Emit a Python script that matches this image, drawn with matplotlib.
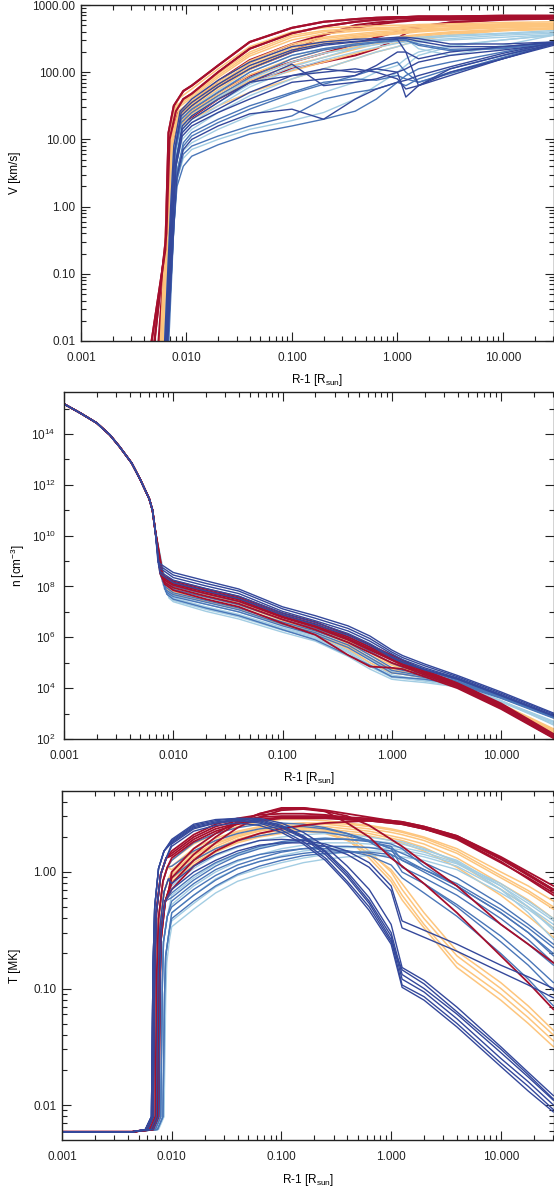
import numpy as np
import matplotlib
matplotlib.use("Agg")
import matplotlib.pyplot as plt
from matplotlib.ticker import LogLocator, FixedLocator, FuncFormatter, NullFormatter

plt.rcParams['font.family'] = ['Liberation Sans', 'DejaVu Sans']
plt.rcParams['mathtext.fontset'] = 'custom'
plt.rcParams['mathtext.rm'] = 'Liberation Sans'
plt.rcParams['mathtext.it'] = 'Liberation Sans:italic'
plt.rcParams['mathtext.default'] = 'regular'

# ------------------------------------------------------------------
# DATA  (all numbers are log10 values)
# ------------------------------------------------------------------
X_LIM = (-3.0, 1.48)
X_TICKS = [0.001, 0.01, 0.1, 1.0, 10.0]

# ---- Panel 1 : speed V [km/s] ----
V_LIM = (-2.0, 3.0)
V_TICKS = [0.01, 0.1, 1.0, 10.0, 100.0, 1000.0]
V_GRID = [-1.95, -1.7, -1.4, -1.0, -0.7, -0.4, -0.2, 0.0, 0.08, 0.2, 0.5, 1.0, 1.48]

V_RED = [
    ([(-2.34, -2.1), (-2.2, -0.64), (-2.17, 1.1), (-2.12, 1.5), (-2.03, 1.72)],
     [1.8, 2.1, 2.45, 2.66, 2.75, 2.79, 2.81, 2.82, 2.82, 2.83, 2.83, 2.84, 2.84]),
    ([(-2.31, -2.1), (-2.19, -0.4), (-2.16, 1.0), (-2.1, 1.42), (-2.03, 1.6)],
     [1.68, 2.0, 2.35, 2.58, 2.68, 2.75, 2.78, 2.8, 2.8, 2.8, 2.81, 2.82, 2.82]),
    ([(-2.27, -2.1), (-2.18, -0.2), (-2.15, 1.0), (-2.09, 1.3), (-2.03, 1.43)],
     [1.5, 1.8, 2.05, 2.3, 2.55, 2.7, 2.74, 2.76, 2.77, 2.78, 2.78, 2.8, 2.8]),
    ([(-2.25, -2.1), (-2.17, 0.0), (-2.14, 1.0), (-2.08, 1.28)],
     [1.42, 1.7, 1.95, 2.15, 2.28, 2.42, 2.52, 2.6, 2.64, 2.68, 2.74, 2.78, 2.8]),
    ([(-2.24, -2.1), (-2.16, 0.2), (-2.13, 1.0), (-2.07, 1.22)],
     [1.33, 1.6, 1.85, 2.05, 2.15, 2.25, 2.35, 2.5, 2.58, 2.66, 2.74, 2.79, 2.8]),
    ([(-2.26, -2.1), (-2.17, -0.2), (-2.14, 1.1), (-2.08, 1.4)],
     [1.55, 1.87, 2.18, 2.42, 2.56, 2.66, 2.71, 2.75, 2.76, 2.78, 2.8, 2.82, 2.82]),
]
V_ORANGE = [
    ([(-2.25, -2.1), (-2.18, 0.3), (-2.15, 1.25), (-2.08, 1.6)],
     [1.75, 2.05, 2.38, 2.6, 2.66, 2.68, 2.69, 2.7, 2.7, 2.71, 2.72, 2.74, 2.75]),
    ([(-2.24, -2.1), (-2.17, 0.2), (-2.14, 1.2), (-2.08, 1.52)],
     [1.68, 1.98, 2.3, 2.55, 2.62, 2.65, 2.66, 2.67, 2.68, 2.69, 2.7, 2.72, 2.73]),
    ([(-2.24, -2.1), (-2.17, 0.25), (-2.145, 1.18), (-2.08, 1.5)],
     [1.65, 1.95, 2.27, 2.52, 2.6, 2.63, 2.65, 2.66, 2.67, 2.68, 2.69, 2.71, 2.72]),
    ([(-2.23, -2.1), (-2.17, 0.2), (-2.14, 1.15), (-2.08, 1.47)],
     [1.62, 1.92, 2.24, 2.48, 2.57, 2.61, 2.63, 2.64, 2.65, 2.66, 2.68, 2.7, 2.72]),
    ([(-2.23, -2.1), (-2.16, 0.1), (-2.13, 1.1), (-2.07, 1.43)],
     [1.57, 1.86, 2.17, 2.42, 2.52, 2.57, 2.6, 2.62, 2.63, 2.64, 2.66, 2.69, 2.71]),
    ([(-2.23, -2.1), (-2.16, 0.1), (-2.135, 1.08), (-2.07, 1.4)],
     [1.55, 1.83, 2.13, 2.39, 2.5, 2.55, 2.58, 2.6, 2.61, 2.63, 2.65, 2.68, 2.7]),
    ([(-2.22, -2.1), (-2.16, 0.1), (-2.13, 1.05), (-2.07, 1.38)],
     [1.52, 1.8, 2.1, 2.36, 2.47, 2.53, 2.56, 2.59, 2.6, 2.62, 2.65, 2.68, 2.7]),
    ([(-2.22, -2.1), (-2.16, 0.0), (-2.13, 1.0), (-2.07, 1.35)],
     [1.5, 1.77, 2.07, 2.33, 2.45, 2.52, 2.55, 2.58, 2.59, 2.61, 2.64, 2.67, 2.69]),
    ([(-2.22, -2.1), (-2.16, 0.0), (-2.13, 1.0), (-2.07, 1.33)],
     [1.47, 1.74, 2.04, 2.3, 2.42, 2.5, 2.54, 2.57, 2.58, 2.6, 2.63, 2.66, 2.68]),
    ([(-2.21, -2.1), (-2.15, 0.0), (-2.12, 0.95), (-2.06, 1.3)],
     [1.42, 1.68, 1.96, 2.2, 2.33, 2.43, 2.48, 2.52, 2.54, 2.56, 2.6, 2.64, 2.66]),
    ([(-2.21, -2.1), (-2.15, 0.0), (-2.12, 0.95), (-2.06, 1.27)],
     [1.4, 1.65, 1.92, 2.15, 2.28, 2.38, 2.45, 2.5, 2.52, 2.55, 2.59, 2.63, 2.66]),
    ([(-2.21, -2.1), (-2.15, 0.0), (-2.12, 0.9), (-2.06, 1.22)],
     [1.35, 1.6, 1.88, 2.1, 2.22, 2.34, 2.42, 2.48, 2.5, 2.53, 2.58, 2.62, 2.65]),
    ([(-2.2, -2.1), (-2.14, -0.1), (-2.11, 0.85), (-2.05, 1.18)],
     [1.3, 1.5, 1.7, 1.9, 2.05, 2.2, 2.3, 2.38, 2.42, 2.47, 2.55, 2.62, 2.64]),
    ([(-2.21, -2.1), (-2.15, 0.0), (-2.12, 0.9), (-2.06, 1.25)],
     [1.38, 1.62, 1.85, 2.02, 2.15, 2.28, 2.36, 2.44, 2.47, 2.5, 2.56, 2.62, 2.64]),
]
V_LBLUE = [
    ([(-2.21, -2.1), (-2.15, 0.0), (-2.12, 0.9), (-2.06, 1.3)],
     [1.45, 1.72, 2.0, 2.25, 2.35, 2.42, 2.46, 2.5, 2.51, 2.52, 2.55, 2.58, 2.62]),
    ([(-2.2, -2.1), (-2.14, 0.0), (-2.11, 0.8), (-2.05, 1.2)],
     [1.35, 1.62, 1.9, 2.15, 2.28, 2.36, 2.41, 2.46, 2.48, 2.5, 2.53, 2.57, 2.6]),
    ([(-2.2, -2.1), (-2.14, -0.1), (-2.11, 0.7), (-2.05, 1.1)],
     [1.25, 1.5, 1.78, 2.04, 2.18, 2.3, 2.37, 2.43, 2.45, 2.47, 2.5, 2.55, 2.58]),
    ([(-2.19, -2.1), (-2.13, -0.1), (-2.1, 0.6), (-2.04, 1.0)],
     [1.15, 1.4, 1.65, 1.9, 2.05, 2.2, 2.3, 2.38, 2.42, 2.45, 2.48, 2.52, 2.56]),
    ([(-2.19, -2.1), (-2.13, -0.2), (-2.1, 0.5), (-2.04, 0.82)],
     [0.95, 1.15, 1.35, 1.55, 1.7, 1.85, 2.0, 2.1, 2.2, 2.3, 2.4, 2.48, 2.55]),
    ([(-2.18, -2.1), (-2.12, -0.2), (-2.09, 0.4), (-2.03, 0.72)],
     [0.85, 1.0, 1.15, 1.28, 1.4, 1.6, 1.8, 2.0, 2.1, 2.25, 2.38, 2.48, 2.55]),
    ([(-2.2, -2.1), (-2.14, 0.0), (-2.11, 0.75), (-2.05, 1.15)],
     [1.3, 1.55, 1.82, 2.08, 2.22, 2.36, 2.45, 2.52, 2.5, 2.35, 2.25, 2.4, 2.55]),
]
V_MBLUE = [
    ([(-2.2, -2.1), (-2.14, -0.1), (-2.11, 0.8), (-2.05, 1.25)],
     [1.4, 1.65, 1.92, 2.2, 2.33, 2.4, 2.44, 2.47, 2.47, 2.42, 2.34, 2.36, 2.43]),
    ([(-2.18, -2.1), (-2.12, -0.3), (-2.09, 0.5), (-2.03, 0.95)],
     [1.1, 1.3, 1.5, 1.7, 1.85, 1.9, 1.88, 1.95, 1.9, 1.85, 1.98, 2.2, 2.42]),
    ([(-2.18, -2.1), (-2.12, -0.3), (-2.09, 0.4), (-2.03, 0.78)],
     [0.9, 1.05, 1.2, 1.35, 1.6, 1.7, 1.75, 1.85, 1.8, 1.9, 2.05, 2.25, 2.45]),
    ([(-2.17, -2.1), (-2.12, -0.3), (-2.09, 0.3), (-2.03, 0.6)],
     [0.75, 0.92, 1.08, 1.2, 1.3, 1.42, 1.6, 1.85, 1.95, 2.05, 2.15, 2.3, 2.45]),
    ([(-2.2, -2.1), (-2.14, -0.1), (-2.11, 0.8), (-2.05, 1.3)],
     [1.45, 1.7, 2.0, 2.25, 2.35, 2.42, 2.45, 2.48, 2.48, 2.4, 2.32, 2.35, 2.44]),
    ([(-2.18, -2.1), (-2.12, -0.2), (-2.09, 0.5), (-2.03, 0.9)],
     [1.05, 1.25, 1.45, 1.68, 1.82, 1.95, 2.05, 2.15, 2.0, 1.85, 2.0, 2.22, 2.43]),
]
V_DBLUE = [
    ([(-2.21, -2.1), (-2.15, 0.0), (-2.12, 0.9), (-2.06, 1.42)],
     [1.6, 1.88, 2.15, 2.38, 2.45, 2.49, 2.5, 2.52, 2.52, 2.5, 2.42, 2.42, 2.45]),
    ([(-2.2, -2.1), (-2.14, 0.0), (-2.11, 0.85), (-2.05, 1.35)],
     [1.5, 1.78, 2.05, 2.3, 2.4, 2.45, 2.48, 2.5, 2.5, 2.46, 2.38, 2.38, 2.44]),
    ([(-2.19, -2.1), (-2.13, -0.1), (-2.1, 0.7), (-2.04, 1.15)],
     [1.3, 1.55, 1.85, 2.12, 1.8, 1.85, 1.9, 2.0, 2.05, 2.15, 2.25, 2.33, 2.42]),
    ([(-2.19, -2.1), (-2.13, -0.2), (-2.1, 0.6), (-2.04, 1.1)],
     [1.25, 1.45, 1.7, 1.95, 2.05, 2.0, 2.05, 2.0, 1.63, 1.8, 2.05, 2.25, 2.42]),
    ([(-2.19, -2.1), (-2.13, -0.2), (-2.1, 0.6), (-2.04, 1.05)],
     [1.2, 1.4, 1.6, 1.85, 1.9, 1.95, 2.1, 2.3, 2.3, 1.8, 1.95, 2.2, 2.42]),
    ([(-2.18, -2.1), (-2.12, -0.3), (-2.09, 0.45), (-2.03, 0.85)],
     [1.0, 1.2, 1.38, 1.45, 1.3, 1.6, 1.75, 1.85, 1.88, 1.95, 2.08, 2.28, 2.44]),
    ([(-2.19, -2.1), (-2.13, -0.1), (-2.1, 0.65), (-2.04, 1.2)],
     [1.35, 1.6, 1.85, 1.95, 2.0, 2.05, 2.0, 1.9, 1.75, 1.8, 2.0, 2.2, 2.4]),
    ([(-2.2, -2.1), (-2.14, 0.0), (-2.11, 0.85), (-2.05, 1.4)],
     [1.55, 1.82, 2.1, 2.33, 2.42, 2.46, 2.48, 2.49, 2.3, 2.2, 2.3, 2.38, 2.45]),
]

# ---- Panel 2 : density n [cm^-3] ----
N_LIM = (2.0, 15.65)
N_MAJOR = [2, 4, 6, 8, 10, 12, 14]
N_MINOR = [3, 5, 7, 9, 11, 13, 15]
N_BASE = [(-3.0, 15.18), (-2.85, 14.82), (-2.7, 14.43), (-2.58, 13.96), (-2.49, 13.49),
          (-2.38, 12.85), (-2.3, 12.19), (-2.22, 11.45), (-2.19, 11.0), (-2.165, 10.2)]
N_GRID = [-2.0, -1.7, -1.4, -1.0, -0.7, -0.4, -0.2, 0.0, 0.1, 0.3, 0.6, 1.0, 1.48]

N_LBLUE = [
    ([(-2.07, 7.85)], [7.65, 7.3, 7.0, 6.5, 6.15, 5.65, 5.15, 4.65, 4.55, 4.38, 4.14, 3.52, 2.55]),
    ([(-2.06, 7.75)], [7.55, 7.2, 6.9, 6.38, 6.05, 5.5, 5.0, 4.52, 4.45, 4.32, 4.12, 3.5, 2.7]),
    ([(-2.055, 7.7)], [7.5, 7.15, 6.85, 6.33, 6.0, 5.45, 4.92, 4.47, 4.4, 4.3, 4.1, 3.49, 2.68]),
    ([(-2.05, 7.65)], [7.45, 7.1, 6.8, 6.28, 5.95, 5.4, 4.85, 4.42, 4.38, 4.28, 4.08, 3.48, 2.65]),
    ([(-2.04, 7.55)], [7.4, 7.02, 6.72, 6.2, 5.85, 5.25, 4.75, 4.35, 4.3, 4.22, 4.05, 3.45, 2.6]),
]
N_ORANGE = [
    ([(-2.1, 8.3)], [8.0, 7.66, 7.36, 6.72, 6.35, 5.85, 5.4, 4.95, 4.8, 4.52, 4.1, 3.32, 2.25]),
    ([(-2.09, 8.15)], [7.9, 7.58, 7.28, 6.65, 6.28, 5.75, 5.3, 4.9, 4.75, 4.5, 4.1, 3.35, 2.35]),
    ([(-2.08, 8.05)], [7.8, 7.48, 7.18, 6.58, 6.2, 5.65, 5.2, 4.75, 4.65, 4.48, 4.12, 3.36, 2.3]),
    ([(-2.07, 7.95)], [7.7, 7.4, 7.1, 6.5, 6.1, 5.55, 5.0, 4.6, 4.55, 4.42, 4.1, 3.38, 2.4]),
]
N_MBLUE = [
    ([(-2.11, 8.35)], [8.0, 7.7, 7.4, 6.8, 6.45, 6.0, 5.6, 5.15, 4.95, 4.7, 4.32, 3.7, 2.88]),
    ([(-2.1, 8.2)], [7.88, 7.58, 7.28, 6.7, 6.35, 5.9, 5.45, 4.98, 4.82, 4.62, 4.28, 3.67, 2.87]),
    ([(-2.09, 8.05)], [7.75, 7.45, 7.15, 6.6, 6.25, 5.8, 5.3, 4.8, 4.7, 4.55, 4.25, 3.65, 2.9]),
    ([(-2.08, 7.9)], [7.68, 7.38, 7.08, 6.52, 6.18, 5.7, 5.2, 4.7, 4.62, 4.48, 4.22, 3.63, 2.84]),
    ([(-2.07, 7.8)], [7.6, 7.3, 7.0, 6.45, 6.1, 5.6, 5.1, 4.6, 4.55, 4.42, 4.2, 3.62, 2.85]),
    ([(-2.06, 7.7)], [7.5, 7.15, 6.85, 6.3, 5.9, 5.3, 4.9, 4.45, 4.42, 4.35, 4.15, 3.6, 2.82]),
]
N_RED = [
    ([(-2.12, 8.5)], [8.22, 7.9, 7.6, 6.95, 6.6, 6.1, 5.7, 5.3, 5.1, 4.7, 4.2, 3.4, 2.2]),
    ([(-2.115, 8.45)], [8.16, 7.84, 7.54, 6.88, 6.52, 6.02, 5.62, 5.22, 5.02, 4.65, 4.16, 3.35, 2.15]),
    ([(-2.11, 8.4)], [8.1, 7.78, 7.48, 6.82, 6.45, 5.95, 5.55, 5.15, 4.95, 4.6, 4.12, 3.3, 2.1]),
    ([(-2.1, 8.3)], [8.05, 7.72, 7.42, 6.78, 6.4, 5.9, 5.5, 5.1, 4.9, 4.58, 4.1, 3.26, 2.12]),
    ([(-2.09, 8.2)], [7.95, 7.62, 7.32, 6.7, 6.3, 5.8, 5.4, 5.0, 4.85, 4.52, 4.05, 3.22, 2.05]),
    ([(-2.08, 8.1)], [7.85, 7.5, 7.2, 6.55, 6.1, 5.3, 4.85, 4.8, 4.75, 4.45, 4.0, 3.18, 2.03]),
]
N_DBLUE = [
    ([(-2.14, 8.95)], [8.55, 8.22, 7.9, 7.2, 6.85, 6.45, 6.05, 5.5, 5.28, 4.95, 4.5, 3.85, 3.02]),
    ([(-2.135, 8.85)], [8.45, 8.12, 7.82, 7.12, 6.75, 6.35, 5.95, 5.42, 5.2, 4.88, 4.45, 3.8, 2.98]),
    ([(-2.13, 8.75)], [8.35, 8.02, 7.72, 7.02, 6.65, 6.25, 5.85, 5.35, 5.12, 4.8, 4.4, 3.75, 2.93]),
    ([(-2.125, 8.6)], [8.25, 7.92, 7.62, 6.95, 6.58, 6.15, 5.75, 5.25, 5.05, 4.75, 4.38, 3.72, 2.92]),
    ([(-2.12, 8.5)], [8.15, 7.82, 7.52, 6.88, 6.5, 6.08, 5.68, 5.2, 5.0, 4.72, 4.35, 3.7, 2.9]),
]

# ---- Panel 3 : temperature T [MK] ----
T_LIM = (-2.3, 0.695)
T_TICKS = [0.01, 0.1, 1.0]
T_BASE = [(-3.0, -2.23), (-2.36, -2.23)]
T_GRID = [-2.0, -1.8, -1.6, -1.4, -1.2, -1.0, -0.8, -0.6, -0.4, -0.2, 0.0, 0.1, 0.3, 0.6, 1.0, 1.25, 1.48]

T_RISE_A = [(-2.24, -2.21), (-2.185, -2.1), (-2.17, -0.8), (-2.155, -0.3), (-2.12, 0.03), (-2.07, 0.18)]
T_RISE_B = [(-2.22, -2.21), (-2.17, -2.1), (-2.155, -0.85), (-2.14, -0.35), (-2.1, -0.02), (-2.05, 0.12)]
T_RISE_C = [(-2.2, -2.21), (-2.15, -2.1), (-2.135, -0.85), (-2.12, -0.4), (-2.08, -0.08), (-2.04, 0.04)]
T_RISE_D = [(-2.19, -2.21), (-2.14, -2.1), (-2.125, -0.95), (-2.11, -0.5), (-2.07, -0.17), (-2.03, -0.06)]
T_RISE_E = [(-2.18, -2.21), (-2.13, -2.1), (-2.115, -1.0), (-2.1, -0.6), (-2.06, -0.26), (-2.025, -0.15)]
T_RISE_F = [(-2.17, -2.21), (-2.12, -2.1), (-2.105, -0.9), (-2.095, -0.5), (-2.06, -0.25)]
T_RISE_G = [(-2.15, -2.21), (-2.1, -2.1), (-2.085, -0.95), (-2.075, -0.6), (-2.04, -0.38)]
T_RISE_H = [(-2.13, -2.21), (-2.08, -2.1), (-2.065, -1.05), (-2.055, -0.72), (-2.025, -0.52)]
T_RISE_I = [(-2.12, -2.21), (-2.07, -2.1), (-2.055, -1.1), (-2.045, -0.78), (-2.02, -0.58)]

T_ORANGE = [
    (T_RISE_C, [0.1, 0.24, 0.33, 0.39, 0.43, 0.45, 0.45, 0.44, 0.42, 0.4, 0.37, 0.35, 0.3, 0.2, 0.0, -0.12, -0.25]),
    (T_RISE_C, [0.05, 0.2, 0.29, 0.35, 0.39, 0.41, 0.42, 0.41, 0.39, 0.37, 0.34, 0.32, 0.27, 0.16, -0.05, -0.18, -0.32]),
    (T_RISE_D, [0.0, 0.15, 0.25, 0.32, 0.36, 0.39, 0.4, 0.39, 0.37, 0.35, 0.31, 0.29, 0.24, 0.12, -0.1, -0.24, -0.4]),
    (T_RISE_D, [-0.05, 0.1, 0.2, 0.28, 0.33, 0.36, 0.37, 0.37, 0.35, 0.33, 0.29, 0.27, 0.21, 0.08, -0.15, -0.3, -0.48]),
    (T_RISE_E, [-0.08, 0.06, 0.17, 0.25, 0.3, 0.33, 0.35, 0.35, 0.33, 0.31, 0.27, 0.25, 0.18, 0.04, -0.2, -0.38, -0.56]),
    (T_RISE_C, [0.02, 0.17, 0.27, 0.34, 0.38, 0.41, 0.42, 0.42, 0.41, 0.39, 0.36, 0.34, 0.29, 0.18, -0.03, -0.16, -0.3]),
    (T_RISE_D, [-0.02, 0.12, 0.22, 0.3, 0.35, 0.38, 0.38, 0.36, 0.3, 0.15, -0.05, -0.2, -0.45, -0.78, -1.05, -1.25, -1.45]),
    (T_RISE_E, [-0.04, 0.1, 0.2, 0.28, 0.33, 0.36, 0.36, 0.34, 0.28, 0.12, -0.08, -0.24, -0.48, -0.82, -1.1, -1.3, -1.5]),
    (T_RISE_D, [0.0, 0.14, 0.24, 0.31, 0.36, 0.39, 0.39, 0.37, 0.32, 0.18, 0.0, -0.15, -0.4, -0.72, -1.0, -1.2, -1.4]),
    (T_RISE_E, [-0.06, 0.08, 0.18, 0.26, 0.31, 0.34, 0.35, 0.33, 0.27, 0.16, 0.02, -0.1, -0.35, -0.68, -0.95, -1.15, -1.36]),
]
T_LBLUE = [
    (T_RISE_I, [-0.47, -0.32, -0.18, -0.08, -0.02, 0.03, 0.08, 0.11, 0.13, 0.14, 0.14, 0.13, 0.1, 0.02, -0.18, -0.32, -0.48]),
    (T_RISE_H, [-0.42, -0.27, -0.13, -0.03, 0.03, 0.08, 0.12, 0.15, 0.17, 0.18, 0.18, 0.17, 0.13, 0.05, -0.15, -0.3, -0.45]),
    (T_RISE_H, [-0.35, -0.2, -0.06, 0.03, 0.09, 0.14, 0.18, 0.2, 0.21, 0.21, 0.2, 0.19, 0.15, 0.07, -0.12, -0.27, -0.42]),
    (T_RISE_G, [-0.28, -0.12, 0.0, 0.09, 0.15, 0.2, 0.23, 0.25, 0.25, 0.24, 0.22, 0.21, 0.17, 0.08, -0.1, -0.25, -0.4]),
    (T_RISE_G, [-0.2, -0.05, 0.07, 0.15, 0.21, 0.25, 0.28, 0.29, 0.28, 0.27, 0.25, 0.24, 0.19, 0.1, -0.12, -0.3, -0.5]),
    (T_RISE_F, [-0.12, 0.03, 0.14, 0.21, 0.27, 0.3, 0.32, 0.33, 0.32, 0.3, 0.27, 0.26, 0.2, 0.09, -0.15, -0.35, -0.58]),
]
T_MBLUE = [
    (T_RISE_H, [-0.4, -0.25, -0.12, -0.02, 0.05, 0.1, 0.14, 0.16, 0.17, 0.17, 0.15, 0.1, 0.0, -0.15, -0.4, -0.58, -0.78]),
    (T_RISE_G, [-0.3, -0.15, -0.03, 0.06, 0.12, 0.17, 0.2, 0.22, 0.22, 0.21, 0.18, 0.12, 0.02, -0.12, -0.35, -0.52, -0.7]),
    (T_RISE_F, [-0.18, -0.03, 0.08, 0.16, 0.22, 0.26, 0.28, 0.29, 0.28, 0.26, 0.22, 0.1, 0.02, -0.1, -0.32, -0.48, -0.65]),
    (T_RISE_D, [-0.05, 0.1, 0.2, 0.27, 0.31, 0.34, 0.35, 0.34, 0.31, 0.27, 0.2, 0.04, -0.05, -0.2, -0.45, -0.62, -0.8]),
    (T_RISE_C, [0.05, 0.18, 0.27, 0.33, 0.37, 0.39, 0.39, 0.37, 0.33, 0.26, 0.15, 0.0, -0.1, -0.28, -0.55, -0.75, -0.95]),
    (T_RISE_G, [-0.25, -0.1, 0.02, 0.1, 0.15, 0.18, 0.2, 0.2, 0.18, 0.14, 0.06, -0.05, -0.18, -0.38, -0.7, -0.92, -1.15]),
    (T_RISE_H, [-0.35, -0.2, -0.07, 0.03, 0.09, 0.13, 0.16, 0.18, 0.18, 0.16, 0.12, 0.05, -0.1, -0.3, -0.6, -0.8, -1.02]),
    (T_RISE_C, [0.1, 0.25, 0.33, 0.38, 0.41, 0.42, 0.41, 0.38, 0.33, 0.27, 0.2, 0.16, 0.08, -0.05, -0.28, -0.45, -0.62]),
    (T_RISE_F, [-0.22, -0.07, 0.05, 0.14, 0.2, 0.24, 0.27, 0.28, 0.28, 0.27, 0.24, 0.2, 0.05, -0.12, -0.35, -0.52, -0.72]),
]
T_RED = [
    (T_RISE_B, [0.18, 0.32, 0.41, 0.46, 0.49, 0.5, 0.5, 0.49, 0.47, 0.46, 0.44, 0.43, 0.39, 0.31, 0.13, 0.0, -0.12]),
    (T_RISE_B, [0.16, 0.3, 0.39, 0.44, 0.47, 0.48, 0.48, 0.48, 0.46, 0.45, 0.43, 0.42, 0.38, 0.3, 0.11, -0.03, -0.16]),
    (T_RISE_B, [0.14, 0.28, 0.37, 0.42, 0.45, 0.47, 0.47, 0.47, 0.45, 0.44, 0.42, 0.41, 0.37, 0.29, 0.09, -0.06, -0.2]),
    (T_RISE_C, [0.12, 0.26, 0.35, 0.41, 0.44, 0.46, 0.46, 0.46, 0.45, 0.44, 0.42, 0.41, 0.37, 0.28, 0.08, -0.05, -0.18]),
    (T_RISE_E, [-0.05, 0.15, 0.3, 0.42, 0.5, 0.55, 0.55, 0.52, 0.42, 0.3, 0.12, 0.05, -0.1, -0.35, -0.72, -0.95, -1.18]),
    (T_RISE_F, [-0.1, 0.1, 0.25, 0.38, 0.47, 0.53, 0.54, 0.52, 0.48, 0.4, 0.28, 0.22, 0.08, -0.12, -0.45, -0.62, -0.78]),
    (T_RISE_E, [0.0, 0.2, 0.33, 0.43, 0.5, 0.54, 0.55, 0.53, 0.5, 0.47, 0.44, 0.42, 0.37, 0.3, 0.12, -0.02, -0.15]),
    (T_RISE_F, [-0.15, 0.05, 0.18, 0.27, 0.33, 0.37, 0.4, 0.42, 0.43, 0.44, 0.44, 0.43, 0.39, 0.31, 0.12, -0.02, -0.15]),
]
T_DBLUE = [
    (T_RISE_A, [0.27, 0.4, 0.44, 0.46, 0.45, 0.4, 0.31, 0.18, 0.0, -0.22, -0.52, -0.88, -1.0, -1.22, -1.55, -1.76, -1.96]),
    (T_RISE_A, [0.26, 0.39, 0.43, 0.45, 0.44, 0.39, 0.3, 0.17, -0.02, -0.25, -0.55, -0.92, -1.03, -1.26, -1.6, -1.8, -2.0]),
    (T_RISE_A, [0.25, 0.38, 0.42, 0.44, 0.43, 0.38, 0.29, 0.15, -0.04, -0.27, -0.58, -0.97, -1.07, -1.3, -1.64, -1.84, -2.04]),
    (T_RISE_B, [0.24, 0.37, 0.42, 0.44, 0.42, 0.36, 0.26, 0.12, -0.08, -0.3, -0.6, -0.84, -0.96, -1.2, -1.52, -1.74, -1.95]),
    (T_RISE_B, [0.22, 0.35, 0.4, 0.42, 0.4, 0.34, 0.24, 0.1, -0.1, -0.33, -0.62, -0.99, -1.1, -1.33, -1.67, -1.88, -2.06]),
    (T_RISE_A, [0.28, 0.41, 0.45, 0.46, 0.46, 0.42, 0.34, 0.22, 0.05, -0.15, -0.45, -0.82, -0.93, -1.16, -1.5, -1.72, -1.92]),
    (T_RISE_D, [-0.1, 0.05, 0.15, 0.22, 0.27, 0.28, 0.27, 0.24, 0.18, 0.08, -0.12, -0.42, -0.5, -0.62, -0.8, -0.9, -1.0]),
    (T_RISE_F, [-0.15, 0.0, 0.1, 0.18, 0.23, 0.25, 0.25, 0.22, 0.15, 0.04, -0.16, -0.48, -0.56, -0.68, -0.86, -0.97, -1.08]),
]

# ------------------------------------------------------------------
# STYLE
# ------------------------------------------------------------------
RED = '#a50f2d'
ORANGE = '#fdc57d'
LBLUE = '#a3cde3'
MBLUE = '#4a76b8'
DBLUE = '#34489b'
FS = 8.5

W, H = 554, 1191
fig = plt.figure(figsize=(W / 100, H / 100), dpi=100)


def add_ax(left, top, bottom, right=553.5):
    return fig.add_axes([left / W, 1 - bottom / H, (right - left) / W, (bottom - top) / H])


def draw(ax, grid, curves, color, lw, base=()):
    for rise, vals in curves:
        pts = list(base) + list(rise) + list(zip(grid, vals))
        lx = np.array([p[0] for p in pts])
        ly = np.array([p[1] for p in pts])
        ax.plot(10 ** lx, 10 ** ly, color=color, lw=lw, solid_joinstyle='round',
                solid_capstyle='round')


def style_x(ax):
    ax.set_xscale('log')
    ax.set_xlim(10 ** X_LIM[0], 10 ** X_LIM[1])
    ax.xaxis.set_major_locator(FixedLocator(X_TICKS))
    ax.xaxis.set_minor_locator(LogLocator(base=10, subs=range(2, 10), numticks=20))
    ax.xaxis.set_major_formatter(FuncFormatter(lambda v, p: f'{v:.3f}'))
    ax.xaxis.set_minor_formatter(NullFormatter())
    ax.tick_params(axis='x', which='both', direction='in', top=True, bottom=True,
                   labelsize=FS, pad=8, colors='#222222')
    ax.tick_params(axis='y', which='both', direction='in', left=True, right=True,
                   labelsize=FS, colors='#222222')
    ax.tick_params(which='major', length=6.5, width=0.8)
    ax.tick_params(which='minor', length=3.5, width=0.8)
    for s in ax.spines.values():
        s.set_linewidth(1.0)
        s.set_color('#222222')
    ax.set_xlabel('R-1 [R$_{sun}$]', fontsize=FS, va='center')


# ---------------- Panel 1 ----------------
ax1 = add_ax(81, 5, 341)
draw(ax1, V_GRID, V_RED, RED, 1.5)
draw(ax1, V_GRID, V_ORANGE, ORANGE, 1.1)
draw(ax1, V_GRID, V_LBLUE, LBLUE, 1.0)
draw(ax1, V_GRID, V_MBLUE, MBLUE, 1.0)
draw(ax1, V_GRID, V_DBLUE, DBLUE, 1.0)
draw(ax1, V_GRID, V_RED[:2], RED, 1.5)
style_x(ax1)
ax1.set_yscale('log')
ax1.set_ylim(10 ** V_LIM[0], 10 ** V_LIM[1])
ax1.yaxis.set_major_locator(FixedLocator(V_TICKS))
ax1.yaxis.set_minor_locator(LogLocator(base=10, subs=range(2, 10), numticks=20))
ax1.yaxis.set_major_formatter(FuncFormatter(lambda v, p: f'{v:.2f}'))
ax1.yaxis.set_minor_formatter(NullFormatter())
ax1.tick_params(axis='y', pad=4)
ax1.set_ylabel('V [km/s]', fontsize=FS, va='center')
ax1.yaxis.set_label_coords((15 - 81) / (553.5 - 81), 0.5)
ax1.xaxis.set_label_coords(0.5, -39 / 336)

# ---------------- Panel 2 ----------------
ax2 = add_ax(64, 392, 739)
draw(ax2, N_GRID, N_LBLUE, LBLUE, 1.0, N_BASE)
draw(ax2, N_GRID, N_ORANGE, ORANGE, 1.1, N_BASE)
draw(ax2, N_GRID, N_MBLUE, MBLUE, 1.0, N_BASE)
draw(ax2, N_GRID, N_RED, RED, 1.3, N_BASE)
draw(ax2, N_GRID, N_DBLUE, DBLUE, 1.0, N_BASE)
style_x(ax2)
ax2.set_yscale('log')
ax2.set_ylim(10 ** N_LIM[0], 10 ** N_LIM[1])
ax2.yaxis.set_major_locator(FixedLocator([10.0 ** e for e in N_MAJOR]))
ax2.yaxis.set_minor_locator(FixedLocator([10.0 ** e for e in N_MINOR]))
ax2.yaxis.set_major_formatter(FuncFormatter(
    lambda v, p: '10$^{%d}$' % int(round(np.log10(v)))))
ax2.yaxis.set_minor_formatter(NullFormatter())
ax2.tick_params(axis='y', pad=6)
ax2.set_ylabel('n [cm$^{-3}$]', fontsize=FS, va='center')
ax2.yaxis.set_label_coords((18 - 64) / (553.5 - 64), 0.5)
ax2.xaxis.set_label_coords(0.5, -39 / 347)

# ---------------- Panel 3 ----------------
ax3 = add_ax(62, 791, 1140)
draw(ax3, T_GRID, T_ORANGE, ORANGE, 1.1, T_BASE)
draw(ax3, T_GRID, T_LBLUE, LBLUE, 1.0, T_BASE)
draw(ax3, T_GRID, T_MBLUE, MBLUE, 1.0, T_BASE)
draw(ax3, T_GRID, T_RED, RED, 1.3, T_BASE)
draw(ax3, T_GRID, T_DBLUE, DBLUE, 1.0, T_BASE)
style_x(ax3)
ax3.set_yscale('log')
ax3.set_ylim(10 ** T_LIM[0], 10 ** T_LIM[1])
ax3.yaxis.set_major_locator(FixedLocator(T_TICKS))
ax3.yaxis.set_minor_locator(LogLocator(base=10, subs=range(2, 10), numticks=20))
ax3.yaxis.set_major_formatter(FuncFormatter(lambda v, p: f'{v:.2f}'))
ax3.yaxis.set_minor_formatter(NullFormatter())
ax3.tick_params(axis='y', pad=4)
ax3.set_ylabel('T [MK]', fontsize=FS, va='center')
ax3.yaxis.set_label_coords((15 - 62) / (553.5 - 62), 0.5)
ax3.xaxis.set_label_coords(0.5, -40 / 349)

fig.savefig('out.png', dpi=100)
